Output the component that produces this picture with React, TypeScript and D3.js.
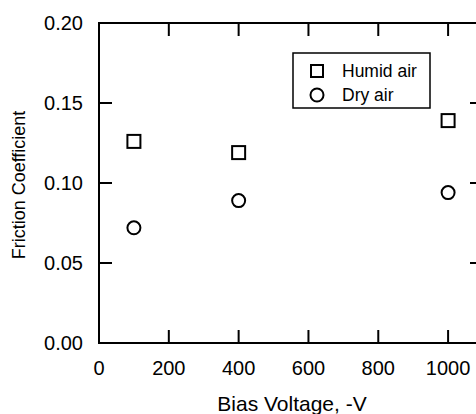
import React from "react";
import * as d3 from "d3";

const voltages = [100, 400, 1000];
const humidAir = [0.126, 0.119, 0.139];
const dryAir = [0.072, 0.089, 0.094];
const xTicks = [0, 200, 400, 600, 800, 1000];
const yTicks = [0, 0.05, 0.1, 0.15, 0.2];
const yTickLabels = ["0.00", "0.05", "0.10", "0.15", "0.20"];
const legendLabels = ["Humid air", "Dry air"];

const W = 476;
const H = 414;
const FONT = "'Liberation Sans', Arial, sans-serif";

export default function App() {
  const x = d3.scaleLinear().domain([0, 1100]).range([99, 483]);
  const y = d3.scaleLinear().domain([0, 0.2]).range([343, 23]);
  const tickLen = 13;
  const innerX = xTicks.filter((t) => t > 0);
  const innerY = yTicks.filter((t) => t > 0 && t < 0.2);
  const sq = 13;
  const r = 6.5;

  return (
    <svg
      width={W}
      height={H}
      style={{ position: "absolute", left: 0, top: 0, background: "#fff" }}
      fontFamily={FONT}
    >
      <rect x={0} y={0} width={W} height={H} fill="#fff" />
      {/* frame */}
      <rect
        x={x(0)}
        y={y(0.2)}
        width={x(1100) - x(0)}
        height={y(0) - y(0.2)}
        fill="none"
        stroke="#000"
        strokeWidth={2}
      />
      {/* x ticks bottom & top */}
      {innerX.map((t) => (
        <g key={"xt" + t}>
          <line x1={x(t)} x2={x(t)} y1={y(0)} y2={y(0) - tickLen} stroke="#000" strokeWidth={2} />
          <line x1={x(t)} x2={x(t)} y1={y(0.2)} y2={y(0.2) + tickLen} stroke="#000" strokeWidth={2} />
        </g>
      ))}
      {/* y ticks left & right */}
      {innerY.map((t) => (
        <g key={"yt" + t}>
          <line x1={x(0)} x2={x(0) + tickLen} y1={y(t)} y2={y(t)} stroke="#000" strokeWidth={2} />
          <line x1={x(1100)} x2={x(1100) - tickLen} y1={y(t)} y2={y(t)} stroke="#000" strokeWidth={2} />
        </g>
      ))}
      {/* x tick labels */}
      {xTicks.map((t) => (
        <text key={"xl" + t} x={x(t)} y={375} textAnchor="middle" fontSize={20} fill="#000">
          {t}
        </text>
      ))}
      {/* y tick labels */}
      {yTicks.map((t, i) => (
        <text key={"yl" + t} x={83} y={y(t) + 7} textAnchor="end" fontSize={20} fill="#000">
          {yTickLabels[i]}
        </text>
      ))}
      {/* axis titles */}
      <text x={292} y={411} textAnchor="middle" fontSize={21} fill="#000">
        Bias Voltage, -V
      </text>
      <text
        transform={`translate(25,${(y(0) + y(0.2)) / 2 + 2}) rotate(-90)`}
        textAnchor="middle"
        fontSize={18}
        fill="#000"
      >
        Friction Coefficient
      </text>
      {/* data */}
      {voltages.map((v, i) => (
        <rect
          key={"h" + v}
          x={x(v) - sq / 2}
          y={y(humidAir[i]) - sq / 2}
          width={sq}
          height={sq}
          fill="none"
          stroke="#000"
          strokeWidth={2}
        />
      ))}
      {voltages.map((v, i) => (
        <circle
          key={"d" + v}
          cx={x(v)}
          cy={y(dryAir[i])}
          r={r}
          fill="none"
          stroke="#000"
          strokeWidth={2}
        />
      ))}
      {/* legend */}
      <rect x={293} y={53} width={137} height={55} fill="#fff" stroke="#000" strokeWidth={1.5} />
      <rect x={317 - 6} y={71 - 6} width={12} height={12} fill="none" stroke="#000" strokeWidth={2} />
      <circle cx={317} cy={95} r={6.5} fill="none" stroke="#000" strokeWidth={2} />
      <text x={342} y={77} fontSize={17.5} fill="#000">
        {legendLabels[0]}
      </text>
      <text x={342} y={101} fontSize={17.5} fill="#000">
        {legendLabels[1]}
      </text>
    </svg>
  );
}
